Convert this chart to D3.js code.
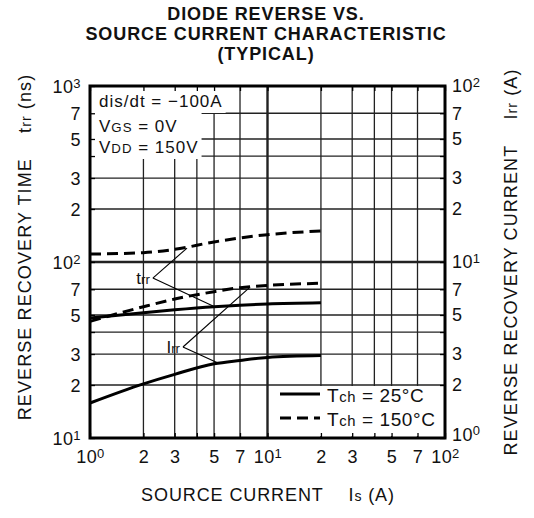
<!DOCTYPE html>
<html><head><meta charset="utf-8">
<script src="https://cdn.jsdelivr.net/npm/d3@7"></script>
<style>
body{margin:0;background:#fff}
svg{display:block}
text{font-family:"Liberation Sans",Arial,Helvetica,sans-serif;fill:#111}
</style>
</head><body>
<svg id="c" width="534" height="518"></svg>
<script>
// ---- data ----
const sourceCurrent = [1, 2, 3, 5, 7, 10, 20];            // Is (A)
const trr25  = [48, 51.5, 53.5, 55.7, 56.8, 57.7, 58.6];   // ns, Tch=25°C
const trr150 = [111, 113, 118, 130, 137, 143, 150];        // ns, Tch=150°C
const irr25  = [1.58, 2.03, 2.3, 2.64, 2.76, 2.87, 2.94];  // A, Tch=25°C
const irr150 = [4.6, 5.57, 6.16, 6.78, 7.15, 7.36, 7.57];  // A, Tch=150°C
const xTickValues = [1, 2, 3, 4, 5, 7, 10, 20, 30, 40, 50, 70, 100];
const yLeftTickValues = [10, 20, 30, 40, 50, 70, 100, 200, 300, 400, 500, 700, 1000];
const yRightTickValues = [1, 2, 3, 4, 5, 7, 10, 20, 30, 40, 50, 70, 100];
const unlabeledMantissa = [4];
const titleLines = ["DIODE REVERSE VS.", "SOURCE CURRENT CHARACTERISTIC", "(TYPICAL)"];
const conditionLines = [
  [{t:"dis/dt = \u2212100A"}],
  [{t:"V"},{t:"GS",s:1},{t:" = 0V"}],
  [{t:"V"},{t:"DD",s:1},{t:" = 150V"}]
];
const legendItems = [
  {seg:[{t:"T"},{t:"ch",s:1},{t:" = 25\u00B0C"}], dash:null},
  {seg:[{t:"T"},{t:"ch",s:1},{t:" = 150\u00B0C"}], dash:"11,6"}
];
// leader annotations (data coordinates)
const trrLabelAt = [2.26, 81];             // Is, ns
const trrTargets = [[3.52, 120], [4.93, 56.2]];
const irrLabelAt = [3.34, 3.29];           // Is, A
const irrTargets = [[7.97, 7.2], [5.26, 2.67]];

// ---- layout ----
const m = {l:90, t:86, r:445, b:438};
const svg = d3.select("#c");
const x  = d3.scaleLog().domain([1, 100]).range([m.l, m.r]);
const yL = d3.scaleLog().domain([10, 1000]).range([m.b, m.t]);
const yR = d3.scaleLog().domain([1, 100]).range([m.b, m.t]);

function rich(sel, segs, size){
  segs.forEach(s=>{
    const ts = sel.append("tspan").text(s.t);
    if(s.s) ts.attr("font-size", size*0.78);
  });
  return sel;
}
const isPow = v => Math.abs(Math.log10(v) - Math.round(Math.log10(v))) < 1e-9;
const mant = v => Math.round(v / Math.pow(10, Math.floor(Math.log10(v)+1e-9)));

// title
svg.append("g").selectAll("text").data(titleLines).join("text")
  .attr("x", 266).attr("y", (d,i)=>20 + i*20)
  .attr("text-anchor","middle").attr("font-weight","bold")
  .attr("font-size",18).attr("letter-spacing",0.9).text(d=>d);

// grid
const grid = svg.append("g");
grid.selectAll("line.gx").data(xTickValues.filter(v=>v>1&&v<100)).join("line")
  .attr("x1",d=>x(d)).attr("x2",d=>x(d)).attr("y1",m.t).attr("y2",m.b)
  .attr("stroke","#222").attr("stroke-width",d=>d===10?2.4:1.3);
grid.selectAll("line.gy").data(yLeftTickValues.filter(v=>v>10&&v<1000)).join("line")
  .attr("y1",d=>yL(d)).attr("y2",d=>yL(d)).attr("x1",m.l).attr("x2",m.r)
  .attr("stroke","#222").attr("stroke-width",d=>d===100?2.4:1.3);

// curves
const lineL = d3.line().x((d,i)=>x(sourceCurrent[i])).y(d=>yL(d)).curve(d3.curveMonotoneX);
const lineR = d3.line().x((d,i)=>x(sourceCurrent[i])).y(d=>yR(d)).curve(d3.curveMonotoneX);
const curves = svg.append("g").attr("fill","none").attr("stroke","#000").attr("stroke-width",3);
curves.append("path").attr("d", lineL(trr25));
curves.append("path").attr("d", lineL(trr150)).attr("stroke-dasharray","11,6");
curves.append("path").attr("d", lineR(irr25));
curves.append("path").attr("d", lineR(irr150)).attr("stroke-dasharray","11,6");

// leaders
const lead = svg.append("g").attr("stroke","#000").attr("stroke-width",1.1);
trrTargets.forEach(t=>lead.append("line")
  .attr("x1",x(trrLabelAt[0])).attr("y1",yL(trrLabelAt[1])).attr("x2",x(t[0])).attr("y2",yL(t[1])));
irrTargets.forEach(t=>lead.append("line")
  .attr("x1",x(irrLabelAt[0])).attr("y1",yR(irrLabelAt[1])).attr("x2",x(t[0])).attr("y2",yR(t[1])));
rich(svg.append("text").attr("x",x(trrLabelAt[0])-3).attr("y",yL(trrLabelAt[1])+6)
  .attr("text-anchor","end").attr("font-size",17), [{t:"t"},{t:"rr",s:1}], 17);
rich(svg.append("text").attr("x",x(irrLabelAt[0])-3).attr("y",yR(irrLabelAt[1])+6)
  .attr("text-anchor","end").attr("font-size",17), [{t:"I"},{t:"rr",s:1}], 17);

// condition box
const cond = svg.append("g");
const condBase = [21, 46, 67];
const condTexts = conditionLines.map((segs,i)=>{
  return rich(cond.append("text").attr("x",m.l+9).attr("y",m.t+condBase[i])
    .attr("font-size",17).attr("letter-spacing",1), segs, 17);
});
const right = condTexts.map(t=>{const b=t.node().getBBox(); return b.x+b.width;});
const r23 = Math.max(right[1], right[2]);
cond.insert("rect","text").attr("x",m.l+1).attr("y",m.t+1)
  .attr("width",right[0]+3-m.l-1).attr("height",condBase[0]+5).attr("fill","#fff");
cond.insert("rect","text").attr("x",m.l+1).attr("y",m.t+condBase[0]+5)
  .attr("width",r23+3-m.l-1).attr("height",condBase[2]-condBase[0]+1).attr("fill","#fff");

// legend
const leg = svg.append("g");
leg.append("rect").attr("x",m.r-170).attr("y",m.b-52).attr("width",168).attr("height",50).attr("fill","#fff");
legendItems.forEach((it,i)=>{
  const yy = m.b-44+i*24;
  leg.append("line").attr("x1",m.r-165).attr("x2",m.r-125).attr("y1",yy).attr("y2",yy)
    .attr("stroke","#000").attr("stroke-width",3).attr("stroke-dasharray",it.dash);
  rich(leg.append("text").attr("x",m.r-118).attr("y",yy+8).attr("font-size",19).attr("letter-spacing",0.6), it.seg, 19);
});

// axes (inward ticks, custom labels)
function powLabels(sel){
  sel.selectAll(".tick text").each(function(d){
    const t = d3.select(this);
    t.text(null).attr("font-size",18).attr("fill","#111").attr("font-family",null).attr("letter-spacing",0.4);
    if(isPow(d)){
      t.append("tspan").text("10");
      t.append("tspan").text(Math.round(Math.log10(d))).attr("font-size",13).attr("dy","-0.42em");
    } else if(!unlabeledMantissa.includes(mant(d))){
      t.text(mant(d));
    }
  });
  sel.select(".domain").remove();
  sel.selectAll(".tick line").attr("stroke","#000").attr("stroke-width",1.3);
}
const ax = svg.append("g").attr("transform",`translate(0,${m.b})`)
  .call(d3.axisBottom(x).tickValues(xTickValues).tickSizeInner(-5).tickSizeOuter(0).tickPadding(20).tickFormat(()=>""));
powLabels(ax);
ax.selectAll(".tick text").attr("dy",null).attr("y",25);
const ayl = svg.append("g").attr("transform",`translate(${m.l},0)`)
  .call(d3.axisLeft(yL).tickValues(yLeftTickValues).tickSizeInner(-5).tickSizeOuter(0).tickPadding(9).tickFormat(()=>""));
powLabels(ayl);
ayl.selectAll(".tick text").attr("dy","0.36em");
const ayr = svg.append("g").attr("transform",`translate(${m.r},0)`)
  .call(d3.axisRight(yR).tickValues(yRightTickValues).tickSizeInner(-5).tickSizeOuter(0).tickPadding(7).tickFormat(()=>""));
powLabels(ayr);
ayr.selectAll(".tick text").attr("dy",d=>d===1?"0.13em":"0.33em");
svg.append("g").attr("transform",`translate(0,${m.t})`)
  .call(d3.axisTop(x).tickValues(xTickValues).tickSizeInner(-5).tickSizeOuter(0).tickFormat(()=>""))
  .call(s=>{s.select(".domain").remove(); s.selectAll(".tick line").attr("stroke","#000").attr("stroke-width",1.3);});

// border
svg.append("rect").attr("x",m.l).attr("y",m.t).attr("width",m.r-m.l).attr("height",m.b-m.t)
  .attr("fill","none").attr("stroke","#000").attr("stroke-width",3);

// axis titles
rich(svg.append("text").attr("transform","translate(31,247) rotate(-90)").attr("text-anchor","middle")
  .attr("font-size",18).attr("letter-spacing",1.1),
  [{t:"REVERSE RECOVERY TIME\u2003 t"},{t:"rr",s:1},{t:" (ns)"}], 18);
rich(svg.append("text").attr("transform","translate(517,262) rotate(-90)").attr("text-anchor","middle")
  .attr("font-size",18).attr("letter-spacing",1.1),
  [{t:"REVERSE RECOVERY CURRENT\u2003 I"},{t:"rr",s:1},{t:" (A)"}], 18);
rich(svg.append("text").attr("x",268).attr("y",501).attr("text-anchor","middle")
  .attr("font-size",18).attr("letter-spacing",0.9),
  [{t:"SOURCE CURRENT\u2003 I"},{t:"s",s:1},{t:" (A)"}], 18);
</script>
</body></html>
